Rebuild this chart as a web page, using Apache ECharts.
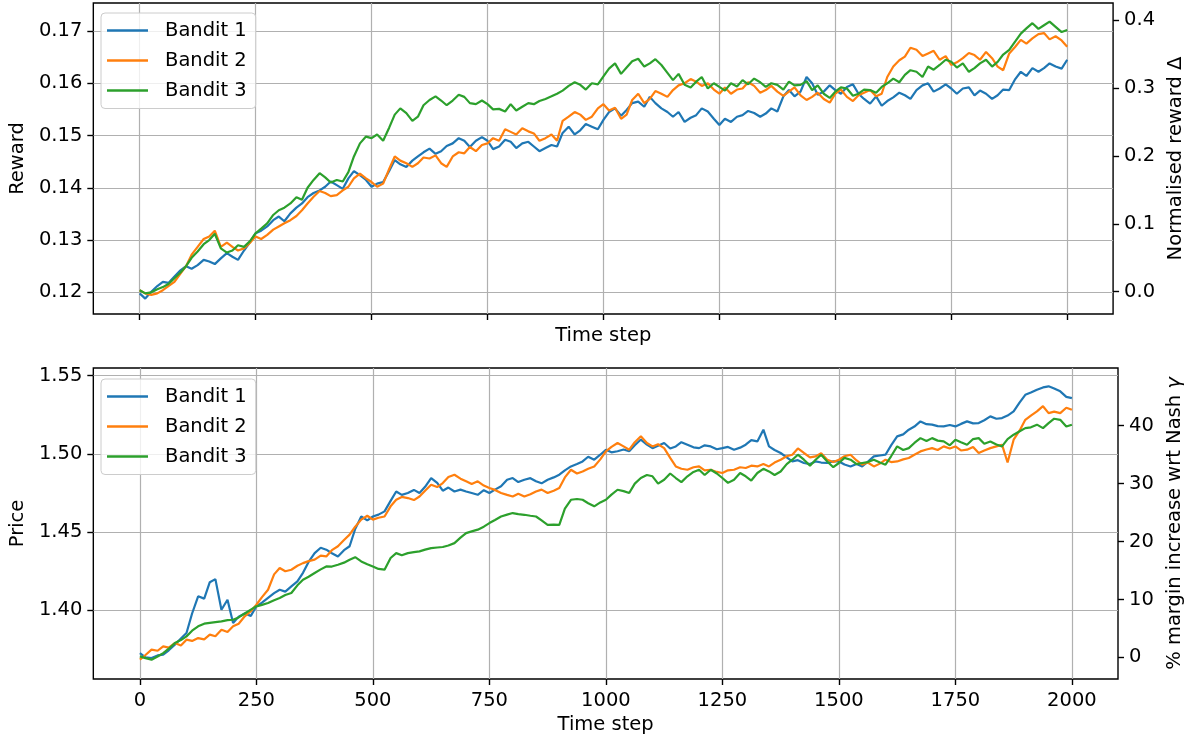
<!DOCTYPE html>
<html><head><meta charset="utf-8">
<script src="https://cdn.jsdelivr.net/npm/echarts@6/dist/echarts.min.js"></script>
<style>html,body{margin:0;padding:0;background:#fff}#c{width:1194px;height:738px}</style>
</head><body><div id="c"></div>
<script>
const steps = [0,12,25,38,50,62,75,88,100,112,125,138,150,162,175,188,200,212,225,238,
250,262,275,288,300,312,325,338,350,362,375,388,400,412,425,438,450,462,475,488,
500,512,525,538,550,562,575,588,600,612,625,638,650,662,675,688,700,712,725,738,
750,762,775,788,800,812,825,838,850,862,875,888,900,912,925,938,950,962,975,988,
1000,1012,1025,1038,1050,1062,1075,1088,1100,1112,1125,1138,1150,1162,1175,1188,1200,1212,1225,1238,
1250,1262,1275,1288,1300,1312,1325,1338,1350,1362,1375,1388,1400,1412,1425,1438,1450,1462,1475,1488,
1500,1512,1525,1538,1550,1562,1575,1588,1600,1612,1625,1638,1650,1662,1675,1688,1700,1712,1725,1738,
1750,1762,1775,1788,1800,1812,1825,1838,1850,1862,1875,1888,1900,1912,1925,1938,1950,1962,1975,1988,
2000];

const reward1 = [.1198,.1188,.1201,.1212,.122,.1218,.123,.1242,.125,.1245,.1252,.1262,.1259,.1254,.1265,.1275,.1268,.1262,.128,.1296,
.1313,.1318,.1326,.1338,.1345,.1336,.1351,.1362,.137,.1382,.139,.1395,.1402,.1412,.1405,.1398,.1418,.1432,.1424,.1415,
.1402,.1408,.1411,.1432,.1453,.1445,.144,.1452,.146,.1468,.1475,.1465,.147,.148,.1485,.1495,.149,.1478,.149,.1497,
.149,.1474,.1479,.1492,.1488,.1476,.1485,.1488,.1479,.147,.1476,.1482,.1479,.1505,.1517,.1502,.151,.1522,.1517,.1512,
.153,.1545,.1552,.1538,.1549,.1562,.1565,.1555,.1574,.1562,.1552,.1545,.1536,.1545,.1526,.1534,.1539,.1552,.1546,.1532,
.152,.1532,.1526,.1536,.1539,.1547,.1543,.1536,.1542,.1552,.1546,.1575,.1587,.1575,.1584,.1612,.160,.1578,.1584,.1596,
.1587,.158,.1593,.1598,.158,.157,.1561,.1575,.1557,.1566,.1573,.1582,.1577,.157,.1587,.1596,.160,.1584,.159,.1598,
.159,.158,.159,.1592,.1577,.1586,.158,.157,.1577,.1588,.1587,.1608,.1622,.1614,.1629,.1622,.1629,.1638,.1632,.1628,
.1645];
const reward2 = [.1204,.1198,.1195,.1198,.1204,.1212,.122,.1236,.125,.1272,.1287,.1302,.1307,.1318,.1287,.1295,.1287,.128,.1284,.1295,
.1307,.1302,.131,.132,.1326,.1332,.1338,.1346,.1357,.137,.1383,.1394,.139,.1384,.1386,.1395,.1402,.1418,.1427,.1418,
.1411,.1402,.1408,.1436,.146,.1452,.1447,.144,.1447,.1458,.1456,.1462,.1447,.144,.146,.1468,.1466,.1478,.147,.1482,
.1485,.1495,.149,.1512,.1507,.1502,.1514,.1508,.1504,.149,.1495,.1502,.149,.1528,.1536,.1545,.154,.153,.1536,.1552,
.156,.1548,.1553,.1532,.154,.1568,.158,.1562,.157,.1585,.158,.1574,.1587,.1596,.160,.1608,.1603,.1595,.160,.1588,
.158,.1592,.158,.1588,.159,.1602,.1595,.1582,.1587,.1595,.1584,.1576,.1584,.1592,.1577,.1568,.1574,.1582,.157,.1563,
.158,.1588,.1574,.1566,.1577,.1582,.1587,.1575,.158,.1612,.1632,.1644,.1651,.1668,.1664,.1652,.1657,.1662,.1645,.1652,
.1635,.164,.1648,.1658,.1654,.1645,.166,.1648,.1632,.1625,.1657,.167,.1683,.1676,.1686,.1694,.1696,.1684,.169,.1682,
.167];
const reward3 = [.1204,.1198,.120,.1206,.121,.1216,.1227,.1238,.125,.1266,.1278,.1292,.130,.1312,.1284,.1276,.128,.129,.1287,.1298,
.1313,.1322,.1332,.1348,.1357,.1362,.137,.1382,.1377,.14,.1415,.1428,.142,.141,.1415,.1412,.143,.146,.1485,.1498,
.1495,.1502,.149,.1515,.154,.1552,.1543,.1528,.1536,.1558,.1568,.1575,.1567,.1558,.1567,.1578,.1574,.1562,.156,.1567,
.156,.155,.1551,.1546,.156,.1548,.1555,.1562,.156,.1566,.157,.1575,.158,.1586,.1595,.1602,.1597,.1588,.160,.1598,
.1613,.1628,.1638,.1618,.163,.1642,.1647,.1632,.1638,.1646,.1635,.162,.1606,.1618,.1597,.1592,.1603,.1612,.159,.16,
.1593,.1586,.160,.1594,.1606,.1598,.1609,.1602,.1593,.16,.1597,.1588,.1603,.1596,.1597,.1604,.1587,.1596,.158,.1572,
.1584,.1592,.159,.1576,.158,.1588,.1587,.1582,.1593,.16,.1609,.1602,.1616,.1625,.1622,.1612,.1632,.1626,.1635,.1645,
.1641,.163,.1638,.1622,.1629,.1638,.1645,.1632,.1641,.1655,.1664,.168,.1695,.1705,.1715,.1704,.1711,.1718,.1708,.1698,
.1702];

const price1 = [1.3727,1.370,1.3695,1.3712,1.3717,1.3745,1.378,1.382,1.3855,1.398,1.409,1.4075,1.418,1.42,1.4004,1.4068,1.392,1.396,1.398,1.3965,
1.4026,1.405,1.408,1.411,1.4132,1.412,1.4153,1.4185,1.424,1.431,1.4366,1.44,1.4388,1.4365,1.4345,1.4385,1.441,1.452,1.46,1.4575,
1.46,1.4612,1.4633,1.47,1.476,1.4738,1.475,1.477,1.475,1.479,1.4846,1.4815,1.4765,1.4785,1.476,1.4772,1.476,1.475,1.4739,1.4768,
1.475,1.4772,1.4793,1.4835,1.4846,1.482,1.4835,1.4845,1.4825,1.4812,1.4835,1.485,1.4867,1.4895,1.492,1.4935,1.4952,1.4982,1.4963,1.4995,
1.5027,1.501,1.5017,1.5028,1.5017,1.5055,1.5092,1.506,1.5037,1.5052,1.507,1.5035,1.5048,1.5075,1.5059,1.5042,1.5037,1.5055,1.5048,1.503,
1.5037,1.5045,1.5027,1.504,1.5059,1.5088,1.508,1.5155,1.5048,1.5025,1.5006,1.4978,1.4952,1.496,1.4942,1.4935,1.4952,1.4945,1.4942,1.4952,
1.4952,1.4932,1.492,1.4935,1.492,1.495,1.4984,1.499,1.4995,1.5055,1.5112,1.5125,1.5155,1.5175,1.5208,1.519,1.5187,1.5178,1.5176,1.5185,
1.5176,1.5192,1.5208,1.5195,1.5197,1.5215,1.524,1.5225,1.5229,1.5245,1.5272,1.533,1.5378,1.5392,1.541,1.5425,1.5432,1.5418,1.54,1.5365,
1.5357];
const price2 = [1.3685,1.3715,1.3749,1.3742,1.377,1.3762,1.3791,1.3775,1.3813,1.3805,1.3823,1.3815,1.3845,1.3835,1.3876,1.3862,1.3898,1.3915,1.3962,1.3995,
1.4036,1.4085,1.4132,1.423,1.4271,1.425,1.426,1.4285,1.4302,1.4315,1.4324,1.435,1.4345,1.4385,1.441,1.445,1.4484,1.4535,1.458,1.4605,
1.458,1.4592,1.46,1.4665,1.4707,1.4725,1.4718,1.4705,1.4728,1.4765,1.4803,1.4788,1.4814,1.4852,1.4867,1.4842,1.4825,1.4808,1.4825,1.4798,
1.4782,1.477,1.475,1.4738,1.4728,1.4745,1.4728,1.4742,1.476,1.4772,1.475,1.4765,1.4782,1.485,1.4899,1.4875,1.4888,1.4905,1.492,1.4965,
1.5016,1.5045,1.507,1.5048,1.5027,1.5075,1.5113,1.507,1.5048,1.5062,1.5037,1.4975,1.492,1.4905,1.4899,1.4915,1.492,1.4895,1.4899,1.4885,
1.4878,1.4895,1.4899,1.4915,1.491,1.4925,1.492,1.4935,1.492,1.4945,1.4963,1.4985,1.4995,1.5035,1.5006,1.4978,1.4984,1.5005,1.4963,1.4948,
1.4963,1.4985,1.4995,1.4958,1.4931,1.4945,1.492,1.4938,1.4963,1.4948,1.4952,1.4965,1.4974,1.4995,1.5016,1.5028,1.5037,1.5025,1.5048,1.5035,
1.5048,1.5022,1.5027,1.5045,1.5006,1.5022,1.5037,1.5048,1.5059,1.4945,1.5091,1.515,1.5218,1.5245,1.5272,1.5305,1.5261,1.527,1.5261,1.5295,
1.5282];
const price3 = [1.3706,1.3695,1.3685,1.3705,1.3727,1.3755,1.3791,1.381,1.3834,1.387,1.3898,1.3915,1.392,1.3925,1.393,1.3938,1.394,1.3955,1.398,1.4005,
1.4026,1.4035,1.4047,1.4065,1.4079,1.4098,1.4111,1.416,1.4196,1.4215,1.4239,1.4262,1.4281,1.428,1.4292,1.4305,1.4324,1.434,1.4313,1.4295,
1.4281,1.4265,1.426,1.4335,1.4366,1.4352,1.4366,1.4372,1.4377,1.4388,1.4398,1.4402,1.4405,1.4415,1.443,1.4465,1.4494,1.4505,1.4516,1.4535,
1.4558,1.4578,1.46,1.4612,1.4622,1.4615,1.4611,1.4605,1.46,1.4575,1.4547,1.4548,1.4547,1.465,1.4707,1.4712,1.4707,1.4685,1.4665,1.469,
1.4707,1.474,1.4771,1.4762,1.475,1.481,1.4846,1.4865,1.4857,1.481,1.4835,1.4875,1.4846,1.482,1.4857,1.4885,1.4899,1.4865,1.4899,1.4875,
1.4846,1.4815,1.4835,1.4878,1.4857,1.483,1.4878,1.4905,1.4888,1.4865,1.4888,1.4935,1.4963,1.4995,1.4963,1.4925,1.4963,1.4995,1.4952,1.4915,
1.4942,1.4975,1.4963,1.4935,1.4942,1.4948,1.4963,1.4945,1.4931,1.4985,1.5048,1.5025,1.5037,1.507,1.5101,1.5082,1.5101,1.5085,1.508,1.5055,
1.5091,1.5075,1.5059,1.5095,1.5101,1.5065,1.508,1.506,1.5048,1.5095,1.5123,1.5145,1.5165,1.517,1.5187,1.5165,1.5197,1.5225,1.5218,1.5175,
1.5187];

const xTicks = [0,250,500,750,1000,1250,1500,1750,2000];
const rewardTicks = [0.12,0.13,0.14,0.15,0.16,0.17];
const deltaTicks = [0,0.1,0.2,0.3,0.4];
const priceTicks = [1.40,1.45,1.50,1.55];
const marginTicks = [0,10,20,30,40];
const names = ['Bandit 1','Bandit 2','Bandit 3'];
const colors = ['#1f77b4','#ff7f0e','#2ca02c'];

const FONT = 'DejaVu Sans';
const FS = 19.5;
const txt = {fontFamily: FONT, fontSize: FS, color: '#000'};
const tick = vals => ({show: true, customValues: vals, length: 6, lineStyle: {color: '#000', width: 1.4}});
const gridLine = {show: true, lineStyle: {color: '#b0b0b0', width: 1.2}};

function xAx(gi, showLabels, gap) {
  return {
    type: 'value', gridIndex: gi, min: -99.95, max: 2098.95,
    axisLine: {show: false, onZero: false}, axisTick: tick(xTicks),
    axisLabel: Object.assign({show: showLabels, customValues: xTicks, margin: 12, formatter: v => String(v)}, txt),
    splitLine: gridLine,
    name: 'Time step', nameLocation: 'middle', nameGap: gap, nameTextStyle: txt
  };
}
function yAx(gi, pos, min, max, ticks, dec, split, name, gap) {
  return {
    type: 'value', gridIndex: gi, position: pos, min: min, max: max,
    axisLine: {show: false, onZero: false}, axisTick: tick(ticks),
    axisLabel: Object.assign({customValues: ticks, margin: 11, formatter: v => Number(v).toFixed(dec)}, txt),
    splitLine: split ? gridLine : {show: false},
    name: name, nameLocation: 'middle', nameRotate: 90, nameGap: gap,
    nameTextStyle: Object.assign({rich: {i: Object.assign({fontStyle: 'italic'}, txt)}}, txt)
  };
}
function legend(top) {
  return {
    orient: 'vertical', left: 101, top: top, data: names, icon: 'rect',
    itemWidth: 41, itemHeight: 2.5, itemGap: 10, padding: [7.5, 9, 8, 6],
    textStyle: Object.assign({padding: [0, 0, 0, 12]}, txt),
    backgroundColor: 'rgba(255,255,255,0.8)', borderColor: '#cccccc', borderWidth: 1, borderRadius: 4
  };
}
function line(i, data, xi, yi) {
  return {
    type: 'line', name: names[i], xAxisIndex: xi, yAxisIndex: yi,
    data: steps.map((s, k) => [s, data[k]]), showSymbol: false, symbol: 'none',
    lineStyle: {color: colors[i], width: 2.2}, itemStyle: {color: colors[i]}, z: 3 + i
  };
}

const chart = echarts.init(document.getElementById('c'), null, {renderer: 'canvas'});
chart.setOption({
  animation: false,
  backgroundColor: '#fff',
  grid: [
    {left: 91, right: 76, top: 3, height: 311, show: true, borderColor: '#000', borderWidth: 1.4, backgroundColor: 'transparent'},
    {left: 91, right: 76, top: 368, height: 311, show: true, borderColor: '#000', borderWidth: 1.4, backgroundColor: 'transparent'}
  ],
  legend: [legend(13), legend(379)],
  xAxis: [xAx(0, false, 12), xAx(1, true, 36)],
  yAxis: [
    yAx(0, 'left', 0.11585, 0.17536, rewardTicks, 2, true, 'Reward', 62),
    yAx(0, 'right', -0.0328, 0.425, deltaTicks, 1, false, 'Normalised reward Δ', 46),
    yAx(1, 'left', 1.35614, 1.55492, priceTicks, 2, true, 'Price', 62),
    yAx(1, 'right', -3.73, 49.97, marginTicks, 0, false, '% margin increase wrt Nash {i|γ}', 41)
  ],
  series: [
    line(0, reward1, 0, 0), line(1, reward2, 0, 0), line(2, reward3, 0, 0),
    line(0, price1, 1, 2), line(1, price2, 1, 2), line(2, price3, 1, 2)
  ]
});
</script></body></html>
